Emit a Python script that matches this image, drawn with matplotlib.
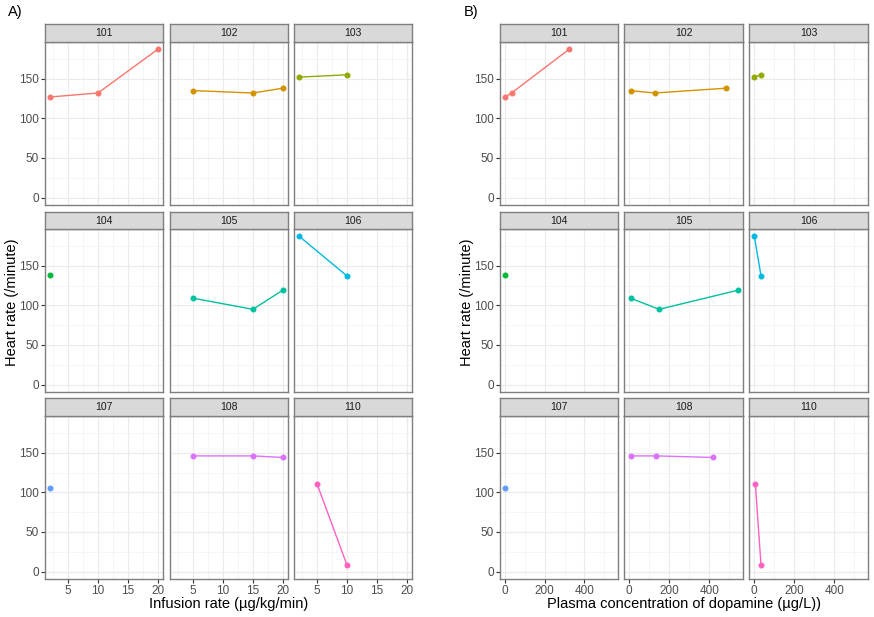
import matplotlib
matplotlib.use("Agg")
import matplotlib.pyplot as plt
from matplotlib.ticker import MultipleLocator

plt.rcParams['font.family'] = ['Liberation Sans', 'DejaVu Sans']

subjects = ['101', '102', '103', '104', '105', '106', '107', '108', '110']
colors = ['#F8766D', '#D39200', '#93AA00', '#00BA38', '#00C19F',
          '#00B9E3', '#619CFF', '#DB72FB', '#FF61C3']

# infusion rate (ug/kg/min)
rate = [[2, 10, 20], [5, 15, 20], [2, 10], [2], [5, 15, 20],
        [2, 10], [2], [5, 15, 20], [5, 10]]
# plasma concentration of dopamine (ug/L)
conc = [[2, 33, 322], [8, 128, 482], [2, 35], [2], [8, 150, 542],
        [2, 35], [2], [8, 137, 420], [7, 35]]
# heart rate (/minute)
hr = [[127, 132, 187], [135, 132, 138], [152, 155], [138], [109, 95, 119],
      [187, 137], [106], [146, 146, 144], [110, 8]]

W, H = 874, 617
fig = plt.figure(figsize=(W / 100, H / 100), dpi=100)


def rect(x0, y0, x1, y1):
    return [x0 / W, 1 - y1 / H, (x1 - x0) / W, (y1 - y0) / H]


rows = [(24, 42, 205), (212, 229, 392), (398, 416, 579)]
cols_a = [(45, 163), (170, 288), (294, 412)]
cols_b = [(500, 618), (624, 743), (749, 868)]

ymin, ymax = 0, 187
yr = ymax - ymin


def draw(cols, xs, xmaj, xmin_step, xlabel, tag, tagx):
    allx = [v for s in xs for v in s]
    lo, hi = min(allx), max(allx)
    pad = (hi - lo) * 0.05
    for i, subj in enumerate(subjects):
        r, c = divmod(i, 3)
        st, pt, pb = rows[r]
        x0, x1 = cols[c]
        ax = fig.add_axes(rect(x0, pt, x1, pb))
        ax.set_facecolor('white')
        ax.plot(xs[i], hr[i], color=colors[i], lw=1.0, marker='o', ms=3.3,
                zorder=3, clip_on=False)
        ax.set_xlim(lo - pad, hi + pad)
        ax.set_ylim(ymin - 0.05 * yr, ymax + 0.05 * yr)
        ax.xaxis.set_major_locator(MultipleLocator(xmaj))
        ax.xaxis.set_minor_locator(MultipleLocator(xmin_step))
        ax.yaxis.set_major_locator(MultipleLocator(50))
        ax.yaxis.set_minor_locator(MultipleLocator(25))
        ax.grid(which='major', color='#EBEBEB', lw=0.8)
        ax.grid(which='minor', color='#F2F2F2', lw=0.5)
        ax.set_axisbelow(True)
        for sp in ax.spines.values():
            sp.set_color('#7F7F7F')
            sp.set_linewidth(1.0)
        ax.tick_params(which='minor', length=0)
        ax.tick_params(which='major', length=3, color='#333333', width=0.8,
                       labelsize=8.5, labelcolor='#4D4D4D', pad=1.5)
        if c != 0:
            ax.tick_params(axis='y', length=0, labelleft=False)
        if r != 2:
            ax.tick_params(axis='x', length=0, labelbottom=False)
        sax = fig.add_axes(rect(x0, st, x1, pt))
        sax.set_facecolor('#D9D9D9')
        sax.set_xticks([])
        sax.set_yticks([])
        for sp in sax.spines.values():
            sp.set_color('#7F7F7F')
            sp.set_linewidth(1.0)
        sax.text(0.5, 0.5, subj, ha='center', va='center', fontsize=7.5,
                 color='#1A1A1A', transform=sax.transAxes)
    xc = (cols[0][0] + cols[2][1]) / 2
    fig.text(xc / W, 1 - 604 / H, xlabel, ha='center', va='center', fontsize=10.5)
    fig.text((cols[0][0] - 33) / W, 1 - 302 / H, 'Heart rate (/minute)',
             ha='center', va='center', rotation=90, fontsize=10.5)
    fig.text(tagx / W, 1 - 12 / H, tag, ha='left', va='center', fontsize=10.5)


draw(cols_a, rate, 5, 2.5, 'Infusion rate (µg/kg/min)', 'A)', 8)
draw(cols_b, conc, 200, 100, 'Plasma concentration of dopamine (µg/L))', 'B)', 464)

fig.savefig('out.png', dpi=100, facecolor='white')
